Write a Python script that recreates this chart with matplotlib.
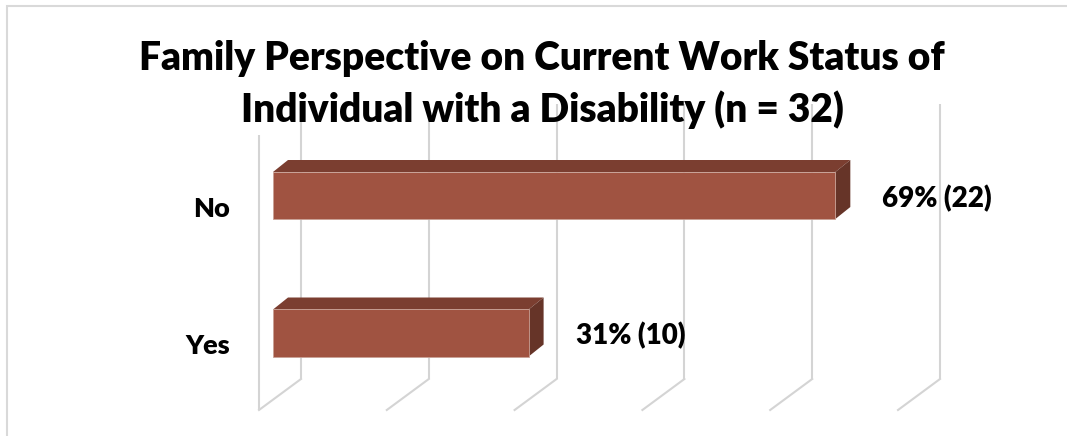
import matplotlib
matplotlib.use("Agg")
import matplotlib.pyplot as plt
from matplotlib.patches import Polygon, Rectangle
from matplotlib.transforms import offset_copy, ScaledTranslation

# Survey responses (n = 32)
categories = ["Yes", "No"]
counts = [10, 22]
labels = ["31% (10)", "69% (22)"]
title_lines = ["Family Perspective on Current Work Status of",
               "Individual with a Disability (n = 32)"]
x_ticks = [0, 5, 10, 15, 20, 25]

FONT = "Lato"
WEIGHT = "heavy"
FRONT = "#A05341"
TOP = "#7B3E30"
SIDE = "#663428"
GRID = "#D4D4D4"

DPI = 100
W, H = 1067, 436
fig = plt.figure(figsize=(W / DPI, H / DPI), dpi=DPI)
fig.patch.set_facecolor("white")

# plot plane (front face of the bars), in pixels
left_px, right_px = 273, 912
top_px, bottom_px = 124.7, 399.7
ax = fig.add_axes([left_px / W, 1 - bottom_px / H,
                   (right_px - left_px) / W, (bottom_px - top_px) / H])
ax.set_xlim(0, 25)
ax.set_ylim(-0.485, 1.515)
ax.set_facecolor("none")
for s in ax.spines.values():
    s.set_visible(False)
ax.set_xticks([])

# pixel offsets for the 3-D box: back wall and front edge of the floor
back = dict(x=28, y=20.7)
front = dict(x=-14, y=-10.3)
t_back = offset_copy(ax.transData, fig=fig, units="dots", **back)
t_front = offset_copy(ax.transData, fig=fig, units="dots", **front)
y0, y1 = ax.get_ylim()

for t in x_ticks:
    # vertical gridline on the back wall
    ax.plot([t, t], [y0, y1], color=GRID, lw=1.5, transform=t_back,
            clip_on=False, solid_capstyle="butt", zorder=0)
    # floor line from the back wall to the front edge
    bx, by = ax.transData.transform((t, y0))
    ax.plot([bx + back["x"], bx + front["x"]], [by + back["y"], by + front["y"]],
            color=GRID, lw=1.5, transform=None, clip_on=False, zorder=0)
# front-left edge of the side wall
ax.plot([0, 0], [y0, y1], color=GRID, lw=1.5, transform=t_front,
        clip_on=False, solid_capstyle="butt", zorder=0)

# bars with a top face and a right side face
bar_h = 0.342
ypos = list(range(len(categories)))
ax.barh(ypos, counts, height=bar_h, color=FRONT, edgecolor="#C9A196",
        linewidth=0.6, zorder=3)
px_x = ax.bbox.width / (ax.get_xlim()[1] - ax.get_xlim()[0])
px_y = ax.bbox.height / (y1 - y0)
ddx, ddy = 15 / px_x, 12 / px_y
for y, v in zip(ypos, counts):
    top = y + bar_h / 2
    bot = y - bar_h / 2
    ax.add_patch(Polygon([(0, top), (v, top), (v + ddx, top + ddy), (ddx, top + ddy)],
                         closed=True, facecolor=TOP, edgecolor="none", zorder=2,
                         clip_on=False))
    ax.add_patch(Polygon([(v, bot), (v + ddx, bot + ddy), (v + ddx, top + ddy), (v, top)],
                         closed=True, facecolor=SIDE, edgecolor="none", zorder=2,
                         clip_on=False))

# value labels
for y, v, lab in zip(ypos, counts, labels):
    ax.annotate(lab, (v, y), xytext=(47 * 72 / DPI, -3 * 72 / DPI),
                textcoords="offset points", ha="left", va="center",
                fontsize=20, fontweight=WEIGHT, family=FONT, color="black",
                annotation_clip=False)

# category labels
ax.set_yticks(ypos)
ax.set_yticklabels(categories, fontsize=19.5, fontweight=WEIGHT, family=FONT)
ax.tick_params(axis="y", length=0, pad=43 * 72 / DPI)
for lbl in ax.get_yticklabels():
    lbl.set_transform(lbl.get_transform() +
                      ScaledTranslation(0, -11 / DPI, fig.dpi_scale_trans))

# title
fig.text(542 / W, 1 - 70 / H, title_lines[0], ha="center", va="baseline",
         fontsize=28, fontweight=WEIGHT, family=FONT)
fig.text(542 / W, 1 - 122 / H, title_lines[1], ha="center", va="baseline",
         fontsize=28, fontweight=WEIGHT, family=FONT)

# chart border
fig.add_artist(Rectangle((7 / W, -0.1), 1.2, 1 - 6 / H + 0.1,
                         transform=fig.transFigure, fill=False,
                         edgecolor="#D9D9D9", lw=1.5))

fig.savefig("out.png", dpi=DPI, facecolor="white")
